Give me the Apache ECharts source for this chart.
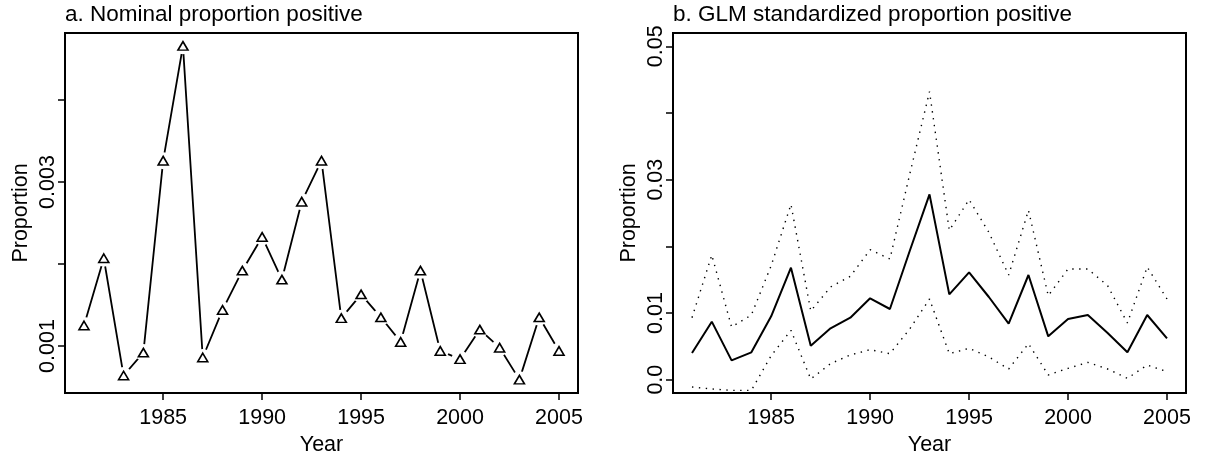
<!DOCTYPE html>
<html><head><meta charset="utf-8">
<script src="https://cdn.jsdelivr.net/npm/echarts@6/dist/echarts.min.js"></script>
<style>html,body{margin:0;padding:0;background:#fff}#c{width:1205px;height:462px}</style>
</head><body><div id="c"></div>
<script>
const years = [1981,1982,1983,1984,1985,1986,1987,1988,1989,1990,1991,1992,1993,1994,1995,1996,1997,1998,1999,2000,2001,2002,2003,2004,2005];
const nominal = [0.00125,0.00207,0.00064,0.00092,0.00326,0.00466,0.00086,0.00144,0.00192,0.00233,0.00181,0.00276,0.00326,0.00134,0.00163,0.00135,0.00105,0.00192,0.00094,0.00084,0.00120,0.00098,0.00059,0.00135,0.00094];
const glmEstimate = [0.0040,0.0087,0.0029,0.0041,0.0095,0.0168,0.0051,0.0077,0.0093,0.0122,0.0106,0.0193,0.0278,0.0128,0.0161,0.0124,0.0084,0.0157,0.0065,0.0091,0.0097,0.0070,0.0041,0.0097,0.0062];
const glmUpper = [0.0093,0.0187,0.0079,0.0097,0.0171,0.0263,0.0103,0.0139,0.0155,0.0195,0.0181,0.0308,0.0432,0.0224,0.0270,0.0221,0.0157,0.0254,0.0126,0.0166,0.0166,0.0141,0.0085,0.0169,0.0121];
const glmLower = [-0.0011,-0.0014,-0.0016,-0.0016,0.0036,0.0074,0.0001,0.0024,0.0037,0.0045,0.0039,0.0076,0.0121,0.0039,0.0047,0.0034,0.0016,0.0054,0.0007,0.0017,0.0026,0.0016,0.0002,0.0022,0.0012];
const xTicks = [1985,1990,1995,2000,2005];
const leftYTicks = [0.001,0.002,0.003,0.004];
const leftYLabels = [0.001,0.003];
const rightYTicks = [0,0.01,0.02,0.03,0.04,0.05];
const rightYLabels = [0,0.01,0.03,0.05];
const titleA = 'a. Nominal proportion positive';
const titleB = 'b. GLM standardized proportion positive';

const FONT = '"Liberation Sans", Arial, sans-serif';
const pairs = arr => years.map((y, i) => [y, arr[i]]);

function xAxisCfg(gi) {
  return {
    gridIndex: gi, type: 'value', min: 1980.04, max: 2005.96,
    axisLine: { show: false, onZero: false },
    splitLine: { show: false },
    axisTick: { show: true, customValues: xTicks, length: 7, lineStyle: { color: '#000', width: 1.5 } },
    axisLabel: { customValues: xTicks, fontSize: 21.5, fontFamily: FONT, color: '#000', margin: 14, formatter: v => String(Math.round(v)) },
    name: 'Year', nameLocation: 'middle', nameGap: 35,
    nameTextStyle: { fontSize: 21.5, fontFamily: FONT, color: '#000' }
  };
}
function yAxisCfg(gi, min, max, ticks, labels, fmt) {
  return {
    gridIndex: gi, type: 'value', min: min, max: max,
    axisLine: { show: false, onZero: false },
    splitLine: { show: false },
    axisTick: { show: true, customValues: ticks, length: 7, lineStyle: { color: '#000', width: 1.5 } },
    axisLabel: { customValues: labels, rotate: 90, fontSize: 21.5, fontFamily: FONT, color: '#000', margin: 6, formatter: fmt },
    name: 'Proportion', nameLocation: 'middle', nameRotate: 90, nameGap: 33,
    nameTextStyle: { fontSize: 21.5, fontFamily: FONT, color: '#000' }
  };
}

const chart = echarts.init(document.getElementById('c'), null, { renderer: 'canvas' });
chart.setOption({
  animation: false,
  backgroundColor: '#fff',
  title: [
    { text: titleA, left: 65, top: 3, padding: 0, textStyle: { fontSize: 22.5, fontWeight: 'normal', fontFamily: FONT, color: '#000' } },
    { text: titleB, left: 673, top: 3, padding: 0, textStyle: { fontSize: 22.5, fontWeight: 'normal', fontFamily: FONT, color: '#000' } }
  ],
  grid: [
    { left: 65, right: 627, top: 33, bottom: 69, show: true, borderColor: '#000', borderWidth: 2, backgroundColor: 'transparent' },
    { left: 673, right: 19, top: 33, bottom: 69, show: true, borderColor: '#000', borderWidth: 2, backgroundColor: 'transparent' }
  ],
  xAxis: [xAxisCfg(0), xAxisCfg(1)],
  yAxis: [
    yAxisCfg(0, 0.000427, 0.004817, leftYTicks, leftYLabels, v => v.toFixed(3)),
    yAxisCfg(1, -0.002, 0.052, rightYTicks, rightYLabels, v => (Math.abs(v) < 1e-9 ? '0.0' : v.toFixed(2)))
  ],
  series: [
    { type: 'line', xAxisIndex: 0, yAxisIndex: 0, data: pairs(nominal), showSymbol: false, silent: true, z: 1,
      lineStyle: { color: '#000', width: 1.8 } },
    { type: 'scatter', xAxisIndex: 0, yAxisIndex: 0, data: pairs(nominal), symbol: 'circle', symbolSize: 17, silent: true, z: 3,
      itemStyle: { color: '#fff', borderWidth: 0, opacity: 1 } },
    { type: 'scatter', xAxisIndex: 0, yAxisIndex: 0, data: pairs(nominal), symbol: 'triangle', symbolSize: [10, 8.5], silent: true, z: 4,
      itemStyle: { color: '#fff', borderColor: '#000', borderWidth: 1.6, opacity: 1 } },
    { type: 'line', xAxisIndex: 1, yAxisIndex: 1, data: pairs(glmUpper), showSymbol: false, silent: true,
      lineStyle: { color: '#000', width: 1.4, type: [1.4, 5.5] } },
    { type: 'line', xAxisIndex: 1, yAxisIndex: 1, data: pairs(glmLower), showSymbol: false, silent: true,
      lineStyle: { color: '#000', width: 1.4, type: [1.4, 5.5] } },
    { type: 'line', xAxisIndex: 1, yAxisIndex: 1, data: pairs(glmEstimate), showSymbol: false, silent: true,
      lineStyle: { color: '#000', width: 2 } }
  ]
});
</script>
</body></html>
